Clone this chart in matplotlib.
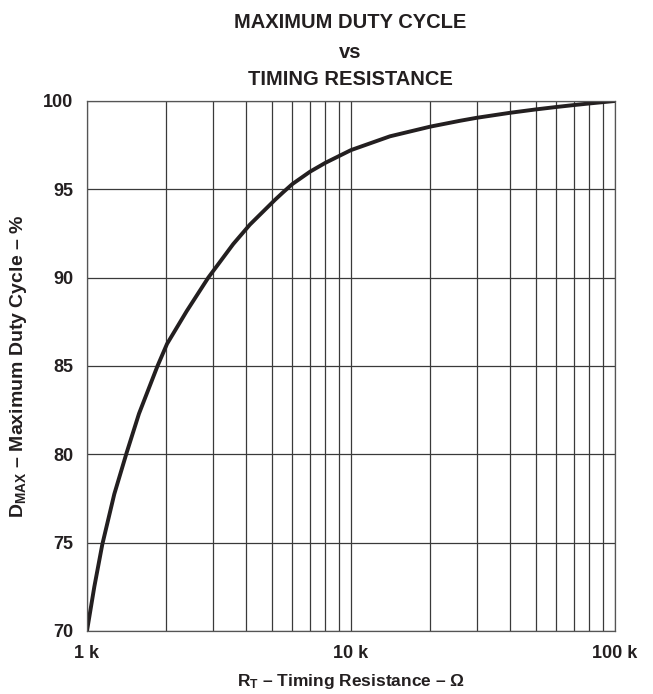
import matplotlib.pyplot as plt
from matplotlib.ticker import FixedLocator, NullFormatter

plt.rcParams['font.family'] = ['Liberation Sans', 'DejaVu Sans']
plt.rcParams['mathtext.fontset'] = 'custom'
plt.rcParams['mathtext.rm'] = 'Liberation Sans:bold'
plt.rcParams['mathtext.bf'] = 'Liberation Sans:bold'

# values (RT in kOhm, DMAX in %)
rt_k = [1.0, 1.066, 1.143, 1.269, 1.414, 1.574, 1.85, 2.01, 2.385, 2.88, 3.58, 4.14,
        5.15, 5.55, 6.0, 7.0, 8.0, 10.0, 14.05, 20.0, 25.9, 30.0, 40.0, 50.0, 60.0,
        70.0, 80.0, 100.0]
dmax = [70.0, 72.5, 74.9, 77.75, 80.1, 82.3, 85.0, 86.25, 88.1, 90.0, 91.9, 93.0,
        94.4, 94.85, 95.3, 96.0, 96.5, 97.22, 98.0, 98.55, 98.88, 99.05, 99.33, 99.52, 99.66,
        99.77, 99.86, 100.0]

x_ticks = [1, 10, 100]
x_tick_labels = ['1 k', '10 k', '100 k']
y_ticks = [70, 75, 80, 85, 90, 95, 100]

fig = plt.figure(figsize=(6.53, 6.94), dpi=100)
ax = fig.add_axes([0.1332, 0.0908, 0.8086, 0.7637])

ax.plot(rt_k, dmax, color='#231f20', lw=2.8, solid_capstyle='round', solid_joinstyle='round')

ax.set_xscale('log')
ax.set_xlim(1, 100)
ax.set_ylim(70, 100)
ax.set_xticks(x_ticks)
ax.set_xticklabels(x_tick_labels)
minors = [m * d for d in (1, 10) for m in range(2, 10)]
ax.xaxis.set_minor_locator(FixedLocator(minors))
ax.xaxis.set_minor_formatter(NullFormatter())
ax.set_yticks(y_ticks)

ax.grid(True, which='both', axis='x', color='#3a3a3a', lw=0.9)
ax.grid(True, which='major', axis='y', color='#3a3a3a', lw=0.9)
for s in ax.spines.values():
    s.set_color('#555555')
    s.set_linewidth(0.9)

ax.tick_params(which='both', length=0, labelsize=13, pad=10, labelcolor='#231f20')
for lab in ax.get_xticklabels() + ax.get_yticklabels():
    lab.set_fontweight('bold')

ax.set_xlabel(r'$\mathbf{R_T}$ – Timing Resistance – Ω', fontsize=12.5, fontweight='bold',
              labelpad=7, color='#231f20')
ax.set_ylabel(r'$\mathbf{D_{MAX}}$ – Maximum Duty Cycle – %', fontsize=14, fontweight='bold',
              labelpad=10, color='#231f20')

fig.text(0.536, 0.967, 'MAXIMUM DUTY CYCLE', ha='center', va='center', fontsize=14.5,
         fontweight='bold', color='#231f20')
fig.text(0.536, 0.925, 'vs', ha='center', va='center', fontsize=14.5, fontweight='bold',
         color='#231f20')
fig.text(0.536, 0.886, 'TIMING RESISTANCE', ha='center', va='center', fontsize=14.5,
         fontweight='bold', color='#231f20')

fig.savefig('out.png', dpi=100)
